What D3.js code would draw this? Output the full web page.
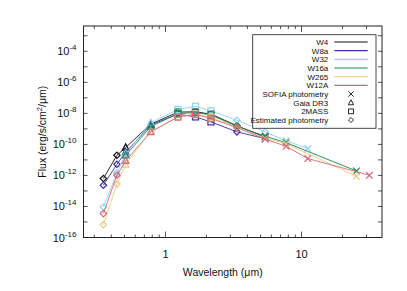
<!DOCTYPE html>
<html>
<head>
<meta charset="utf-8">
<script src="https://cdn.jsdelivr.net/npm/d3@7"></script>
<style>
  body { margin: 0; background: #fff; }
  text { font-family: "Liberation Sans", Arial, sans-serif; fill: #111; }
</style>
</head>
<body>
<div id="chart"></div>
<script>
// wavelengths (micron) shared by all series
var waves = [0.35, 0.44, 0.51, 0.78, 1.235, 1.662, 2.159, 3.35, 5.4, 7.7, 11.1, 25.3, 31.5];
// marker per wavelength: D = estimated, T = Gaia, S = 2MASS, X = SOFIA
var markers = ["D", "D", "T", "T", "S", "S", "S", "D", "X", "X", "X", "X", "X"];

var seriesNames = ["W4", "W8a", "W32", "W16a", "W265", "W12A"];
var seriesColors = ["#111111", "#3b2ea6", "#8ed1f2", "#16864a", "#e6cd7c", "#d6667a"];

// log10 flux (erg/s/cm2/um), null = no point
var w4   = [-12.2, -10.7, -10.2, -8.7, -7.92, -7.9, -8.05, -8.8, -9.53, null, null, null, null];
var w8a  = [-12.63, -11.28, -10.5, -8.75, -8.05, -8.23, -8.55, -9.19, -9.63, null, null, null, null];
var w32  = [-14.03, -11.85, -10.6, -8.61, -7.75, -7.54, -7.84, -8.44, -9.19, -9.77, -10.26, null, null];
var w16a = [null, null, -10.7, -8.85, -8.02, -7.95, -8.1, -8.83, -9.47, -9.89, null, -11.71, null];
var w265 = [-15.17, -12.55, -11.3, -9.15, -8.25, -8.05, -8.25, -8.9, -9.6, -9.95, null, -12.05, null];
var w12a = [-14.46, -11.99, -11.06, -9.2, -8.23, -8.07, -8.33, -8.92, -9.66, -10.12, -10.91, null, -11.99];
var seriesValues = [w4, w8a, w32, w16a, w265, w12a];
// W32 has an estimated point at 5.4 micron
var markerOverride = { "W32": { 8: "D" } };

var xMajor = [1, 10];
var yMajor = [-16, -14, -12, -10, -8, -6, -4];

var legendMarkers = [["SOFIA photometry", "X"], ["Gaia DR3", "T"], ["2MASS", "S"], ["Estimated photometry", "D"]];

var margin = { top: 26, right: 25, bottom: 53.5, left: 83.5 },
    width = 407 - margin.left - margin.right,
    height = 291 - margin.top - margin.bottom;

var svg = d3.select("#chart")
    .append("svg")
    .attr("width", 407)
    .attr("height", 291)
    .append("g")
    .attr("transform", "translate(" + margin.left + "," + margin.top + ")");

var x = d3.scaleLog().domain([0.25, 39]).range([0, width]);
var y = d3.scaleLog().domain([1e-16, Math.pow(10, -2.37)]).range([height, 0]);

// minor / major ticks, all pointing inward
var xMinor = [];
[0.1, 1, 10].forEach(function (d) {
    for (var k = 2; k <= 9; k++) {
        var v = d * k;
        if (v >= 0.25 && v <= 39) xMinor.push(v);
    }
});
var yTicks = [];
for (var e = -16; e <= -3; e++) yTicks.push(Math.pow(10, e));

var ticks = svg.append("g").attr("stroke", "#222").attr("stroke-width", 0.8);
xMinor.forEach(function (v) {
    ticks.append("line").attr("x1", x(v)).attr("x2", x(v)).attr("y1", height).attr("y2", height - 3);
    ticks.append("line").attr("x1", x(v)).attr("x2", x(v)).attr("y1", 0).attr("y2", 3);
});
xMajor.forEach(function (v) {
    ticks.append("line").attr("x1", x(v)).attr("x2", x(v)).attr("y1", height).attr("y2", height - 6);
    ticks.append("line").attr("x1", x(v)).attr("x2", x(v)).attr("y1", 0).attr("y2", 6);
});
yTicks.forEach(function (v) {
    ticks.append("line").attr("x1", 0).attr("x2", 4).attr("y1", y(v)).attr("y2", y(v));
    ticks.append("line").attr("x1", width).attr("x2", width - 4).attr("y1", y(v)).attr("y2", y(v));
});

// tick labels
svg.selectAll(".xlab")
    .data(xMajor)
    .enter()
    .append("text")
    .attr("x", function (d) { return x(d); })
    .attr("y", height + 20)
    .attr("text-anchor", "middle")
    .style("font-size", "11px")
    .text(function (d) { return d; });

var ylab = svg.selectAll(".ylab")
    .data(yMajor)
    .enter()
    .append("text")
    .attr("x", -7)
    .attr("y", function (d) { return y(Math.pow(10, d)) + 4; })
    .attr("text-anchor", "end")
    .style("font-size", "11px");
ylab.append("tspan").text("10");
ylab.append("tspan")
    .attr("dy", -5)
    .style("font-size", "8px")
    .text(function (d) { return d; });

// axis titles
svg.append("text")
    .attr("x", width / 2 - 10)
    .attr("y", height + 38)
    .attr("text-anchor", "middle")
    .style("font-size", "10.5px")
    .text("Wavelength (\u03bcm)");

var yt = svg.append("text")
    .attr("transform", "translate(-38," + (height / 2) + ") rotate(-90)")
    .attr("text-anchor", "middle")
    .style("font-size", "10.5px");
yt.append("tspan").text("Flux (erg/s/cm");
yt.append("tspan").attr("dy", -4).style("font-size", "7.5px").text("2");
yt.append("tspan").attr("dy", 4).text("/\u03bcm)");

// marker drawing
function drawMarker(g, type, cx, cy, color, k, sw) {
    var s = 3.2 * k;
    if (type === "D") {
        g.append("path")
            .attr("d", "M" + cx + "," + (cy - s) + "L" + (cx + s) + "," + cy + "L" + cx + "," + (cy + s) + "L" + (cx - s) + "," + cy + "Z")
            .attr("fill", "none").attr("stroke", color).attr("stroke-width", sw);
    } else if (type === "S") {
        g.append("rect")
            .attr("x", cx - 3 * k).attr("y", cy - 3 * k).attr("width", 6 * k).attr("height", 6 * k)
            .attr("fill", "none").attr("stroke", color).attr("stroke-width", sw);
    } else if (type === "T") {
        g.append("path")
            .attr("d", "M" + cx + "," + (cy - 3.6 * k) + "L" + (cx + 3.3 * k) + "," + (cy + 2.6 * k) + "L" + (cx - 3.3 * k) + "," + (cy + 2.6 * k) + "Z")
            .attr("fill", "none").attr("stroke", color).attr("stroke-width", sw);
    } else {
        var a = 3.3 * k;
        g.append("path")
            .attr("d", "M" + (cx - a) + "," + (cy - a) + "L" + (cx + a) + "," + (cy + a) + "M" + (cx - a) + "," + (cy + a) + "L" + (cx + a) + "," + (cy - a))
            .attr("fill", "none").attr("stroke", color).attr("stroke-width", sw);
    }
}

var plot = svg.append("g");
var line = d3.line()
    .x(function (d) { return x(d.w); })
    .y(function (d) { return y(Math.pow(10, d.f)); });

seriesNames.forEach(function (name, i) {
    var pts = [];
    seriesValues[i].forEach(function (v, j) {
        if (v !== null) {
            var m = markers[j];
            if (markerOverride[name] && markerOverride[name][j]) m = markerOverride[name][j];
            pts.push({ w: waves[j], f: v, m: m });
        }
    });
    var g = plot.append("g");
    g.append("path")
        .datum(pts)
        .attr("d", line)
        .attr("fill", "none")
        .attr("stroke", seriesColors[i])
        .attr("stroke-width", 0.9);
    pts.forEach(function (p) {
        drawMarker(g, p.m, x(p.w), y(Math.pow(10, p.f)), seriesColors[i], 1, 1.2);
    });
});

// frame
svg.append("rect")
    .attr("width", width).attr("height", height)
    .attr("fill", "none").attr("stroke", "#222").attr("stroke-width", 1);

// legend
var lg = svg.append("g").attr("transform", "translate(" + (252.7 - margin.left) + "," + (34.7 - margin.top) + ")");
lg.append("rect")
    .attr("width", 123.3).attr("height", 93.6)
    .attr("fill", "#fff").attr("stroke", "#333").attr("stroke-width", 0.9);
var rowH = 8.67;
seriesNames.forEach(function (name, i) {
    var ry = 7.3 + i * rowH;
    lg.append("text").attr("x", 75.6).attr("y", ry + 3).attr("text-anchor", "end")
        .style("font-size", "8px").text(name);
    lg.append("line").attr("x1", 81.6).attr("x2", 115).attr("y1", ry).attr("y2", ry)
        .attr("stroke", seriesColors[i]).attr("stroke-width", 1.1);
});
legendMarkers.forEach(function (d, i) {
    var ry = 7.3 + (i + 6) * rowH;
    lg.append("text").attr("x", 75.6).attr("y", ry + 3).attr("text-anchor", "end")
        .style("font-size", "8px").text(d[0]);
    drawMarker(lg, d[1], 98.3, ry, "#111", 0.8, 0.9);
});
</script>
</body>
</html>
